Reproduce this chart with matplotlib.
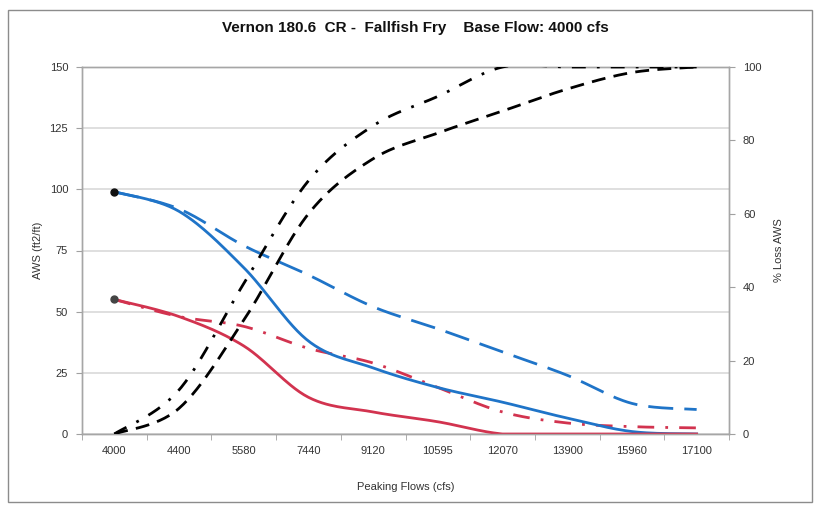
import numpy as np
import matplotlib
matplotlib.use("Agg")
import matplotlib.pyplot as plt
from matplotlib.patches import Rectangle

plt.rcParams['font.family'] = ['Liberation Sans', 'DejaVu Sans']

categories = ["4000", "4400", "5580", "7440", "9120", "10595", "12070", "13900", "15960", "17100"]
aws_blue_solid = [99, 91, 68, 38, 27, 19, 13, 6.5, 1, 0]
aws_blue_dashed = [99, 92, 77, 65, 52, 43, 33.5, 24, 12.5, 10]
aws_red_solid = [55, 48, 36, 15, 9, 5, 0, 0, 0, 0]
aws_red_dashdot = [55, 48, 44, 35, 29, 19, 9, 4.5, 3, 2.5]
loss_dashdot = [0, 12, 41, 69, 84, 92, 100, 100, 100, 100]
loss_dashed = [0, 7, 31, 60, 75, 82, 88, 94, 98.5, 100]

BLUE = "#1f74c8"
RED = "#d2334f"
BLACK = "#000000"


def smooth(y, n=30):
    """Excel-like smoothed line (Bezier with Catmull-Rom control points)."""
    x = np.arange(len(y), dtype=float)
    y = np.asarray(y, dtype=float)
    P = np.column_stack([x, y])
    Pext = np.vstack([P[0], P, P[-1]])
    out = []
    t = np.linspace(0, 1, n)[:, None]
    for i in range(len(P) - 1):
        p0, p1, p2, p3 = Pext[i], Pext[i + 1], Pext[i + 2], Pext[i + 3]
        c1 = p1 + (p2 - p0) / 6.0
        c2 = p2 - (p3 - p1) / 6.0
        seg = ((1 - t) ** 3) * p1 + 3 * ((1 - t) ** 2) * t * c1 + 3 * (1 - t) * t ** 2 * c2 + t ** 3 * p2
        out.append(seg if i == 0 else seg[1:])
    s = np.vstack(out)
    return s[:, 0], s[:, 1]


fig = plt.figure(figsize=(8.18, 5.08), dpi=100)
fig.patches.append(Rectangle((8 / 818, 1 - 502 / 508), 804 / 818, 492 / 508,
                             transform=fig.transFigure, fill=False,
                             edgecolor="#8c8c8c", linewidth=1.0))

ax = fig.add_axes([82 / 818, 1 - 434 / 508, (729 - 82) / 818, (434 - 67) / 508])
ax2 = ax.twinx()

lw = 2.0
xs, ys = smooth(aws_blue_dashed)
ax.plot(xs, ys, color=BLUE, lw=lw, dashes=(9, 4), zorder=3)
xs, ys = smooth(aws_red_dashdot)
ax.plot(xs, ys, color=RED, lw=lw, dashes=(6, 4, 1, 4), zorder=3)
xs, ys = smooth(aws_blue_solid)
ax.plot(xs, ys, color=BLUE, lw=lw, zorder=4)
xs, ys = smooth(aws_red_solid)
ys = np.clip(ys, 0, None)
ax.plot(xs, ys, color=RED, lw=lw, zorder=4)
ax.plot([0], [aws_blue_solid[0]], 'o', color="#111111", ms=5, zorder=5)
ax.plot([0], [aws_red_solid[0]], 'o', color="#444444", ms=5, zorder=5)

xs, ys = smooth(loss_dashdot)
ys = np.clip(ys, None, 100.4)
ax2.plot(xs, ys, color=BLACK, lw=lw, dashes=(5, 4, 1, 4), zorder=3)
xs, ys = smooth(loss_dashed)
ys = np.clip(ys, None, 100.2)
ax2.plot(xs, ys, color=BLACK, lw=lw, dashes=(5, 3), zorder=3)

ax.set_xlim(-0.5, len(categories) - 0.5)
ax.set_ylim(0, 150)
ax2.set_ylim(0, 100)
ax.set_yticks(np.arange(0, 151, 25))
ax2.set_yticks(np.arange(0, 101, 20))
ax.set_xticks(np.arange(len(categories)))
ax.set_xticklabels(categories)
ax.set_xticks(np.arange(len(categories) + 1) - 0.5, minor=True)
ax.tick_params(axis='x', which='major', length=0, pad=9)
ax.tick_params(axis='x', which='minor', length=4, direction='out', color="#a0a0a0")
ax.tick_params(axis='y', length=4, direction='out', color="#a0a0a0", pad=6)
ax2.tick_params(axis='y', length=4, direction='out', color="#a0a0a0", pad=6)
for a in (ax, ax2):
    a.tick_params(labelsize=8, labelcolor="#333333")
    for sp in a.spines.values():
        sp.set_color("#a6a6a6")
        sp.set_linewidth(1.0)

ax.grid(axis='y', color="#d9d9d9", linewidth=1.2)
ax.set_axisbelow(True)

ax.set_ylabel("AWS (ft2/ft)", fontsize=8, color="#333333", labelpad=5)
ax2.set_ylabel("% Loss AWS", fontsize=8, color="#333333", labelpad=9)
ax.set_xlabel("Peaking Flows (cfs)", fontsize=8, color="#333333", labelpad=18)
fig.text(0.508, 1 - 28 / 508, "Vernon 180.6  CR -  Fallfish Fry    Base Flow: 4000 cfs",
         ha='center', va='center', fontsize=11, fontweight='bold', color="#111111")

fig.savefig("out.png", dpi=100)
